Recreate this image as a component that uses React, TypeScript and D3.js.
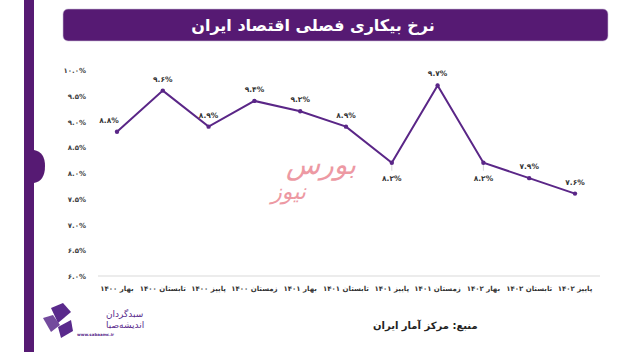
import * as d3 from 'd3';
import React from 'react';

const W = 633;
const H = 352;

const seasons = [
  'بهار ۱۴۰۰', 'تابستان ۱۴۰۰', 'پاییز ۱۴۰۰', 'زمستان ۱۴۰۰',
  'بهار ۱۴۰۱', 'تابستان ۱۴۰۱', 'پاییز ۱۴۰۱', 'زمستان ۱۴۰۱',
  'بهار ۱۴۰۲', 'تابستان ۱۴۰۲', 'پاییز ۱۴۰۲',
];
const unemployment = [8.8, 9.6, 8.9, 9.4, 9.2, 8.9, 8.2, 9.7, 8.2, 7.9, 7.6];
const yTicks = [6.0, 6.5, 7.0, 7.5, 8.0, 8.5, 9.0, 9.5, 10.0];

const title = 'نرخ بیکاری فصلی اقتصاد ایران';
const source = 'منبع: مرکز آمار ایران';

const purple = '#561a73';
const lineColor = '#5a2687';
const font = '"DejaVu Sans", sans-serif';

const faDigits = '۰۱۲۳۴۵۶۷۸۹';
const toFa = (s: string) => s.replace(/[0-9]/g, d => faDigits[+d]);
const pct = (v: number) => toFa(v.toFixed(1)) + '%';

export default function App() {
  const x = d3.scalePoint<string>().domain(seasons).range([117, 575]);
  const y = d3.scaleLinear().domain([6, 10]).range([276, 70]);

  const line = d3.line<number>()
    .x((d, i) => x(seasons[i]) as number)
    .y(d => y(d));

  // label placement: below for the two 8.2 troughs, left for first point
  const labelPos = (i: number) => {
    const px = x(seasons[i]) as number;
    const py = y(unemployment[i]);
    if (i === 6 || i === 8) return { lx: px, ly: py + 18, below: true };
    if (i === 0) return { lx: px - 8, ly: py - 9, below: false };
    return { lx: px, ly: py - 9, below: false };
  };

  return (
    <svg width={W} height={H} style={{ position: 'absolute', left: 0, top: 0, background: '#fff' }}>
      <rect x={0} y={0} width={W} height={H} fill="#fff" />
      {/* left decoration bar */}
      <rect x={24} y={0} width={10} height={H} fill={purple} />
      <path d="M34,150 Q45,152 45,166 Q45,181 34,183 Z" fill={purple} />

      {/* title banner */}
      <rect x={63} y={9} width={545} height={32} rx={5} fill={purple} stroke="#c9bcd6" strokeWidth={0.6} />
      <text x={313} y={30.5} textAnchor="middle" direction="rtl" fill="#fff"
        fontFamily={font} fontSize={16} fontWeight="bold">{title}</text>

      {/* y ticks */}
      {yTicks.map(t => (
        <text key={t} x={86} y={y(t) + 3} textAnchor="end" fontFamily={font}
          fontSize={7} fontWeight="bold" fill="#444">{pct(t)}</text>
      ))}

      {/* x axis baseline */}
      <line x1={98} x2={600} y1={y(6)} y2={y(6)} stroke="#d9d9d9" strokeWidth={1} />
      {seasons.map(s => (
        <text key={s} x={x(s) as number} y={291} textAnchor="middle" direction="rtl"
          fontFamily={font} fontSize={7} fontWeight="bold" fill="#333">{toFa(s)}</text>
      ))}

      {/* watermark */}
      <g fontFamily={font} fontStyle="italic" fill="#ea8893" opacity={0.85}>
        <text x={356} y={174} textAnchor="start" direction="rtl" fontSize={28}>بورس</text>
        <text x={306} y={199} textAnchor="start" direction="rtl" fontSize={22}>نیوز</text>
      </g>

      {/* series */}
      <path d={line(unemployment) || ''} fill="none" stroke={lineColor} strokeWidth={2} />
      {unemployment.map((v, i) => {
        const p = labelPos(i);
        const px = x(seasons[i]) as number;
        const py = y(v);
        return (
          <g key={i}>
            {p.below && <line x1={px} x2={px} y1={py + 2} y2={py + 8} stroke="#ccc" strokeWidth={0.8} />}
            <circle cx={px} cy={py} r={2.2} fill={lineColor} />
            <text x={p.lx} y={p.ly} textAnchor="middle" fontFamily={font} fontSize={7.5}
              fontWeight="bold" fill="#333">{pct(v)}</text>
          </g>
        );
      })}

      {/* source */}
      <text x={373} y={329} textAnchor="end" direction="rtl" fontFamily={font}
        fontSize={10} fontWeight="bold" fill="#222">{source}</text>

      {/* logo */}
      <g fill="#5a2a8c">
        <path d="M51,308 L63,303 L71,312 L58,323 Z" />
        <path d="M43,318 L53,315 L60,325 L51,332 Z" opacity={0.85} />
        <path d="M58,327 L71,320 L73,331 L61,338 Z" />
      </g>
      <text x={106} y={317} textAnchor="end" direction="rtl" fontFamily={font} fontSize={9} fill="#5a2a8c">سبدگردان</text>
      <text x={106} y={328} textAnchor="end" direction="rtl" fontFamily={font} fontSize={9} fill="#5a2a8c">اندیشه‌صبا</text>
      <text x={77} y={336} fontFamily={font} fontSize={4} fontWeight="bold" fill="#5a2a8c">www.sabaamc.ir</text>
    </svg>
  );
}
